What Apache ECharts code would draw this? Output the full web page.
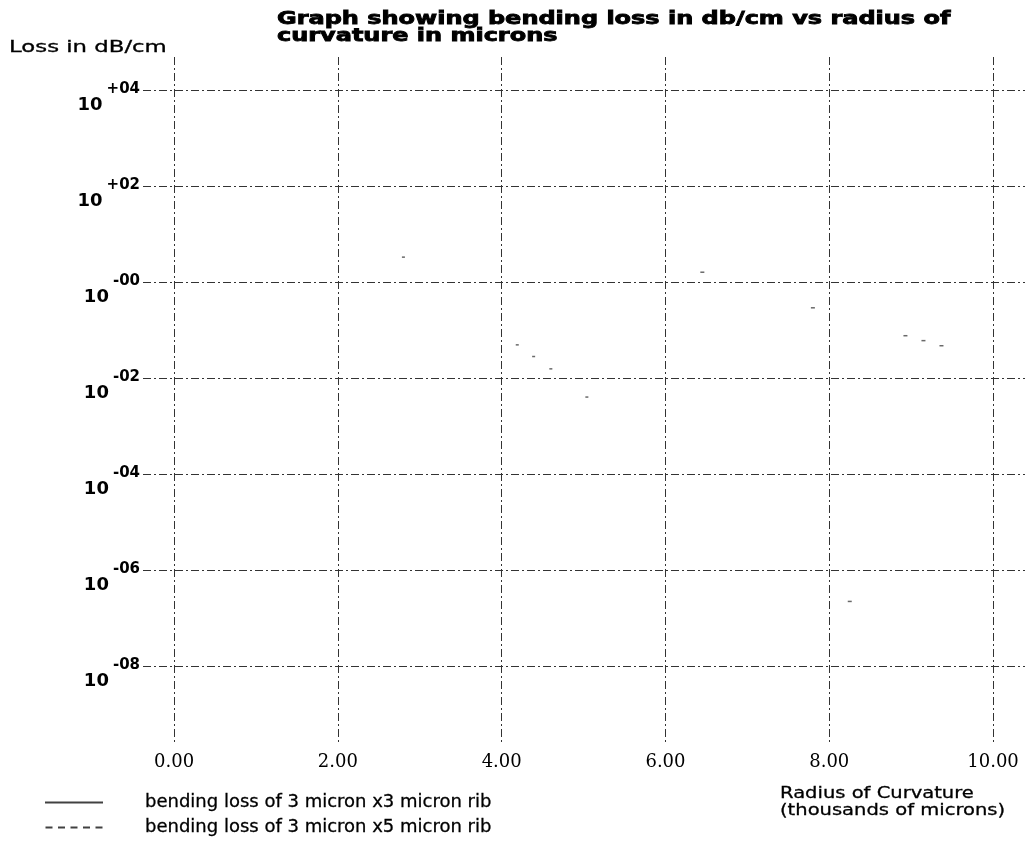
<!DOCTYPE html>
<html><head><meta charset="utf-8">
<script src="https://cdn.jsdelivr.net/npm/echarts@6/dist/echarts.min.js"></script>
<style>html,body{margin:0;padding:0;background:#fff}#c{width:1029px;height:844px}</style>
</head><body><div id="c"></div>
<script>
// ---- data ----
const xTicks = [0, 2, 4, 6, 8, 10];
const xTickLabels = ['0.00', '2.00', '4.00', '6.00', '8.00', '10.00'];
const yTickExponents = [4, 2, 0, -2, -4, -6, -8];
const yTickLabels = ['+04', '+02', '-00', '-02', '-04', '-06', '-08'];
const seriesNames = ['bending loss of 3 micron x3 micron rib', 'bending loss of 3 micron x5 micron rib'];
// faint remnants of the curves visible in the scan: radius (thousands of microns), loss (dB/cm)
const rib3x3Radius = [6.45, 7.80, 8.93, 9.15, 9.37, 8.25];
const rib3x3Loss = [1.6, 0.29, 0.076, 0.060, 0.047, 2.2e-7];
const rib3x5Radius = [2.80, 4.19, 4.39, 4.60, 5.04];
const rib3x5Loss = [3.3, 0.049, 0.028, 0.0155, 0.004];
const titleLines = ['Graph showing bending loss in db/cm vs radius of', 'curvature in microns'];
const yAxisTitle = 'Loss in dB/cm';
const xAxisTitle = ['Radius of Curvature', '(thousands of microns)'];

const toPts = (xs, ys) => xs.map((x, i) => [x, Math.log10(ys[i])]);

const chart = echarts.init(document.getElementById('c'), null, {renderer: 'canvas'});
const gridLine = {show: true, lineStyle: {color: '#333', width: 1, type: [8, 3, 2, 3]}};
const solidIcon = 'path://M0 0H58V2H0Z';
const dashIcon = 'path://M0 0H7V2H0Z M12.5 0H19.5V2H12.5Z M25 0H32V2H25Z M37.5 0H44.5V2H37.5Z M50 0H57V2H50Z';

chart.setOption({
  backgroundColor: '#fff',
  animation: false,
  grid: {left: 143, right: 4, top: 57, bottom: 99, containLabel: false, outerBoundsMode: 'none'},
  xAxis: {
    type: 'value', min: -0.38, max: 10.39,
    axisLine: {show: false},
    axisTick: {show: false, customValues: xTicks},
    splitLine: gridLine,
    axisLabel: {
      customValues: xTicks, margin: 8,
      fontFamily: 'DejaVu Serif', fontSize: 18, color: '#000',
      formatter: v => xTickLabels[xTicks.indexOf(v)]
    }
  },
  yAxis: {
    type: 'value', min: -9.65, max: 4.69,
    axisLine: {show: false},
    axisTick: {show: false, customValues: yTickExponents},
    splitLine: gridLine,
    axisLabel: {
      customValues: yTickExponents, margin: 3,
      padding: [16, 0, 0, 0],
      formatter: v => '{b|10}{s|' + yTickLabels[yTickExponents.indexOf(v)] + '}',
      rich: {
        b: {fontFamily: 'DejaVu Sans', fontWeight: 'bold', fontSize: 18, lineHeight: 20, color: '#000', padding: [14, 4, 0, 0]},
        s: {fontFamily: 'DejaVu Sans', fontWeight: 'bold', fontSize: 15, lineHeight: 16, color: '#000', padding: [0, 0, 18, 0]}
      }
    }
  },
  legend: {
    orient: 'vertical', left: 45, top: 792, padding: 0,
    itemWidth: 58, itemHeight: 2, itemGap: 4,
    selectedMode: false,
    textStyle: {fontFamily: 'DejaVu Sans', fontSize: 18, color: '#000', lineHeight: 21,
      textBorderColor: '#000', textBorderWidth: 0.3, padding: [0, 0, 0, 37]},
    data: [
      {name: seriesNames[0], icon: solidIcon, itemStyle: {color: '#111'}},
      {name: seriesNames[1], icon: dashIcon, itemStyle: {color: '#111'}}
    ]
  },
  series: [
    {name: seriesNames[0], type: 'scatter', symbol: 'rect', symbolSize: [4, 1.5],
     itemStyle: {color: '#444'}, data: toPts(rib3x3Radius, rib3x3Loss)},
    {name: seriesNames[1], type: 'scatter', symbol: 'rect', symbolSize: [3, 1.5],
     itemStyle: {color: '#444'}, data: toPts(rib3x5Radius, rib3x5Loss)}
  ],
  graphic: [
    {type: 'text', x: 277, y: 11, scaleX: 1.41,
     style: {text: titleLines.join('\n'), font: 'bold 17px "DejaVu Sans"', lineHeight: 17, fill: '#000', stroke: '#000', lineWidth: 0.8, verticalAlign: 'top'}},
    {type: 'text', x: 9, y: 41, scaleX: 1.52,
     style: {text: yAxisTitle, font: '15px "DejaVu Sans"', fill: '#000', stroke: '#000', lineWidth: 0.3, verticalAlign: 'top'}},
    {type: 'text', x: 780, y: 785, scaleX: 1.22,
     style: {text: xAxisTitle.join('\n'), font: '16px "DejaVu Sans"', lineHeight: 17, fill: '#000', stroke: '#000', lineWidth: 0.3, verticalAlign: 'top'}}
  ]
});
</script>
</body></html>
